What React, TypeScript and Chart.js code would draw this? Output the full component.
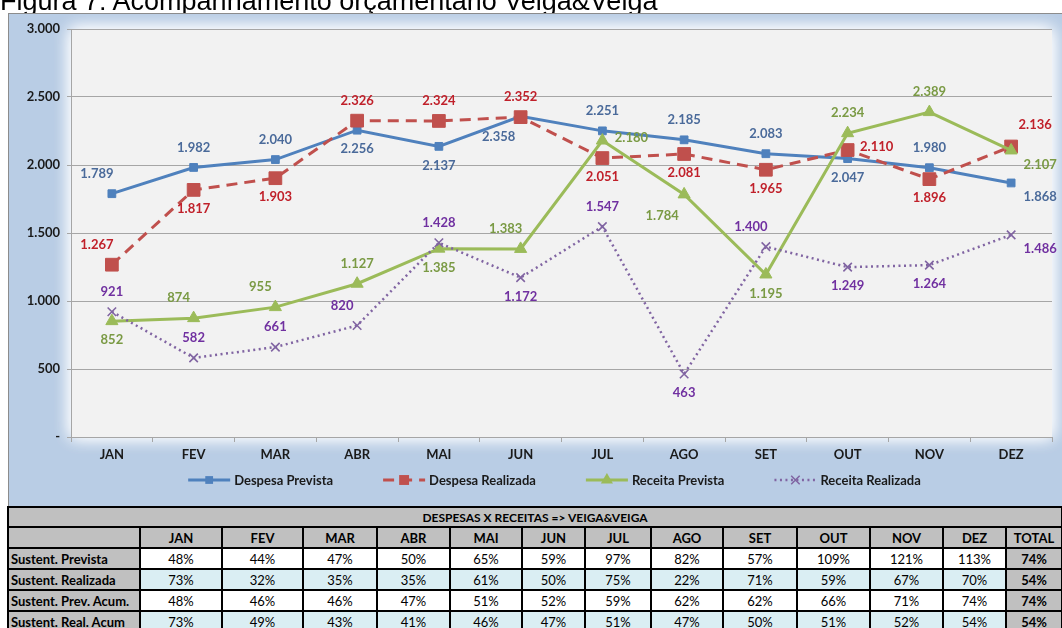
import React, { useEffect, useRef } from 'react';
import { Chart, registerables } from 'chart.js';

Chart.register(...registerables);

// ---------- data ----------
const months = ['JAN', 'FEV', 'MAR', 'ABR', 'MAI', 'JUN', 'JUL', 'AGO', 'SET', 'OUT', 'NOV', 'DEZ'];
const despesaPrevista = [1789, 1982, 2040, 2256, 2137, 2358, 2251, 2185, 2083, 2047, 1980, 1868];
const despesaRealizada = [1267, 1817, 1903, 2326, 2324, 2352, 2051, 2081, 1965, 2110, 1896, 2136];
const receitaPrevista = [852, 874, 955, 1127, 1385, 1383, 2180, 1784, 1195, 2234, 2389, 2107];
const receitaRealizada = [921, 582, 661, 820, 1428, 1172, 1547, 463, 1400, 1249, 1264, 1486];
const yMin = 0;
const yMax = 3000;
const yStep = 500;

const chartTitle = 'Figura 7: Acompanhamento orçamentário Veiga&Veiga';
const tableTitle = 'DESPESAS X RECEITAS => VEIGA&VEIGA';
const totalLabel = 'TOTAL';
const rowLabels = ['Sustent. Prevista', 'Sustent. Realizada', 'Sustent. Prev. Acum.', 'Sustent. Real. Acum'];
const sustPrevista = [48, 44, 47, 50, 65, 59, 97, 82, 57, 109, 121, 113];
const sustRealizada = [73, 32, 35, 35, 61, 50, 75, 22, 71, 59, 67, 70];
const sustPrevAcum = [48, 46, 46, 47, 51, 52, 59, 62, 62, 66, 71, 74];
const sustRealAcum = [73, 49, 43, 41, 46, 47, 51, 47, 50, 51, 52, 54];
const sustTotals = [74, 54, 74, 54];

// ---------- label placement (style) ----------
const posDP = ['al', 'a', 'a', 'b', 'b', 'bl', 'a', 'a', 'a', 'b', 'a', 'br'];
const posDR = ['al', 'b', 'b', 'a', 'a', 'a', 'b', 'b', 'b', 'r', 'b', 'ar'];
const posRP = ['b', 'al', 'al', 'a', 'b', 'al', 'r', 'bl', 'b', 'a', 'a', 'br'];
const posRR = ['a', 'a', 'a', 'al', 'a', 'b', 'a', 'b', 'al', 'b', 'b', 'br'];
const OFFSETS: Record<string, [number, number]> = {
  a: [0, -20],
  b: [0, 19],
  al: [-15, -20],
  bl: [-22, 21],
  ar: [24, -22],
  br: [29, 14],
  r: [29, -3],
};

const FONT = 'Lato, "Open Sans", sans-serif';

function fmtNum(v: number): string {
  if (v === 0) return '-';
  return String(v).replace(/\B(?=(\d{3})+(?!\d))/g, '.');
}

const seriesStyles = [
  { label: 'Despesa Prevista', data: despesaPrevista, color: '#4f81bd', text: '#4a6a9a', dash: [] as number[], width: 3, marker: 'rect', radius: 5.5, pos: posDP, order: 4 },
  { label: 'Despesa Realizada', data: despesaRealizada, color: '#c0504d', text: '#c0202a', dash: [11, 7], width: 3, marker: 'rect', radius: 9, pos: posDR, order: 3 },
  { label: 'Receita Prevista', data: receitaPrevista, color: '#9bbb59', text: '#7a9a44', dash: [] as number[], width: 3, marker: 'triangle', radius: 7, pos: posRP, order: 2 },
  { label: 'Receita Realizada', data: receitaRealizada, color: '#8064a2', text: '#7030a0', dash: [2, 3.5], width: 2.5, marker: 'crossRot', radius: 6, pos: posRR, order: 1 },
];

const bgPlugin = {
  id: 'bgGlow',
  beforeDraw(chart: any) {
    const { ctx, chartArea: ca, width, height } = chart;
    ctx.save();
    ctx.fillStyle = '#b9cde5';
    ctx.fillRect(0, 0, width, height);
    ctx.shadowColor = 'rgba(255,255,255,1)';
    ctx.shadowBlur = 16;
    ctx.fillStyle = '#f2f2f2';
    ctx.fillRect(ca.left, ca.top, ca.right - ca.left, ca.bottom - ca.top);
    ctx.fillRect(ca.left, ca.top, ca.right - ca.left, ca.bottom - ca.top);
    ctx.restore();
  },
};

const labelsPlugin = {
  id: 'pointLabels',
  afterDatasetsDraw(chart: any) {
    const { ctx } = chart;
    ctx.save();
    ctx.font = `bold 13px ${FONT}`;
    ctx.textAlign = 'center';
    ctx.textBaseline = 'middle';
    chart.data.datasets.forEach((ds: any, di: number) => {
      const meta = chart.getDatasetMeta(di);
      const st = seriesStyles[di];
      meta.data.forEach((pt: any, i: number) => {
        const off = OFFSETS[st.pos[i]] || [0, -20];
        ctx.fillStyle = st.text;
        ctx.fillText(fmtNum(ds.data[i]), pt.x + off[0], pt.y + off[1]);
      });
    });
    ctx.restore();
  },
};

function drawMarker(ctx: CanvasRenderingContext2D, kind: string, x: number, y: number, r: number, color: string) {
  ctx.save();
  ctx.setLineDash([]);
  ctx.fillStyle = color;
  ctx.strokeStyle = color;
  if (kind === 'rect') {
    const s = Math.SQRT1_2 * r;
    ctx.fillRect(x - s, y - s, 2 * s, 2 * s);
  } else if (kind === 'triangle') {
    ctx.beginPath();
    ctx.moveTo(x, y - r);
    ctx.lineTo(x + r * 0.866, y + r * 0.5);
    ctx.lineTo(x - r * 0.866, y + r * 0.5);
    ctx.closePath();
    ctx.fill();
  } else {
    const s = r * 0.707;
    ctx.lineWidth = 1.5;
    ctx.beginPath();
    ctx.moveTo(x - s, y - s);
    ctx.lineTo(x + s, y + s);
    ctx.moveTo(x + s, y - s);
    ctx.lineTo(x - s, y + s);
    ctx.stroke();
  }
  ctx.restore();
}

const legendPlugin = {
  id: 'customLegend',
  afterDraw(chart: any) {
    const { ctx, chartArea: ca } = chart;
    ctx.save();
    ctx.font = `bold 13px ${FONT}`;
    ctx.textBaseline = 'middle';
    ctx.textAlign = 'left';
    const symW = 42;
    const gap = 4;
    const itemGap = 50;
    const widths = seriesStyles.map((s) => symW + gap + ctx.measureText(s.label).width);
    const total = widths.reduce((a, b) => a + b, 0) + itemGap * (widths.length - 1);
    let x = (ca.left + ca.right) / 2 - 7 - total / 2;
    const y = ca.bottom + 43;
    seriesStyles.forEach((s, i) => {
      ctx.save();
      ctx.strokeStyle = s.color;
      ctx.lineWidth = s.width;
      ctx.setLineDash(s.dash);
      ctx.beginPath();
      ctx.moveTo(x, y);
      ctx.lineTo(x + symW, y);
      ctx.stroke();
      ctx.restore();
      drawMarker(ctx, s.marker, x + symW / 2, y, Math.min(s.radius, 7), s.color);
      ctx.fillStyle = '#1a1a1a';
      ctx.fillText(s.label, x + symW + gap, y + 1);
      x += widths[i] + itemGap;
    });
    ctx.restore();
  },
};

function ChartCanvas() {
  const ref = useRef<HTMLCanvasElement | null>(null);
  useEffect(() => {
    if (!ref.current) return;
    const chart = new Chart(ref.current, {
      type: 'line',
      data: {
        labels: months,
        datasets: seriesStyles.map((s) => ({
          label: s.label,
          data: s.data,
          borderColor: s.color,
          backgroundColor: s.color,
          borderWidth: s.width,
          borderDash: s.dash,
          tension: 0,
          fill: false,
          pointStyle: s.marker as any,
          pointRadius: s.radius,
          pointHoverRadius: s.radius,
          pointBackgroundColor: s.color,
          pointBorderColor: s.color,
          pointBorderWidth: s.marker === 'crossRot' ? 1.6 : 1,
          order: s.order,
        })),
      },
      options: {
        animation: false,
        responsive: false,
        devicePixelRatio: 1,
        layout: { padding: { top: 15, right: 8, bottom: 0, left: 0 } },
        plugins: {
          legend: { display: false },
          tooltip: { enabled: false },
          title: { display: false },
        },
        scales: {
          x: {
            type: 'category',
            offset: true,
            grid: {
              display: true,
              drawOnChartArea: false,
              drawTicks: true,
              tickLength: 5,
              color: '#a6a6a6',
              offset: true,
            },
            border: { display: true, color: '#a6a6a6', width: 1 },
            ticks: {
              color: '#1a1a1a',
              font: { family: FONT, size: 13, weight: 'bold' },
              padding: 5,
              maxRotation: 0,
            },
            afterFit: (scale: any) => {
              scale.height = 69;
            },
          },
          y: {
            min: yMin,
            max: yMax,
            ticks: {
              stepSize: yStep,
              color: '#1a1a1a',
              font: { family: FONT, size: 13, weight: 'bold' },
              padding: 7,
              callback: (v: any) => fmtNum(Number(v)),
            },
            grid: { color: '#a6a6a6', lineWidth: 1, tickLength: 4 },
            border: { display: true, color: '#a6a6a6', width: 1 },
            afterFit: (scale: any) => {
              scale.width = 62;
            },
          },
        },
      },
      plugins: [bgPlugin, labelsPlugin, legendPlugin],
    });
    return () => chart.destroy();
  }, []);
  return <canvas ref={ref} width={1053} height={492} style={{ width: 1053, height: 492, display: 'block' }} />;
}

const tableRows = [sustPrevista, sustRealizada, sustPrevAcum, sustRealAcum];
const colWidths = [130, 80, 79, 72, 71, 70, 61, 64, 70, 72, 71, 71, 61, 54];
const rowHeights = [18, 19, 19, 19, 19, 19];

function Table() {
  const cellBase: React.CSSProperties = {
    fontFamily: FONT,
    fontSize: 13,
    color: '#000',
    display: 'flex',
    alignItems: 'center',
    justifyContent: 'center',
    whiteSpace: 'nowrap',
    overflow: 'hidden',
  };
  const cells: React.ReactNode[] = [];
  cells.push(
    <div key="title" style={{ ...cellBase, gridColumn: '1 / -1', background: '#c0c0c0', fontWeight: 'bold', fontSize: 12 }}>
      {tableTitle}
    </div>
  );
  cells.push(<div key="h0" style={{ ...cellBase, background: '#c0c0c0' }} />);
  months.forEach((m) =>
    cells.push(
      <div key={'h' + m} style={{ ...cellBase, background: '#c0c0c0', fontWeight: 'bold' }}>
        {m}
      </div>
    )
  );
  cells.push(
    <div key="htot" style={{ ...cellBase, background: '#c0c0c0', fontWeight: 'bold' }}>
      {totalLabel}
    </div>
  );
  tableRows.forEach((row, ri) => {
    const bg = ri % 2 === 0 ? '#ffffff' : '#daeef3';
    cells.push(
      <div key={'l' + ri} style={{ ...cellBase, background: '#c0c0c0', fontWeight: 'bold', justifyContent: 'flex-start', paddingLeft: 2 }}>
        {rowLabels[ri]}
      </div>
    );
    row.forEach((v, ci) =>
      cells.push(
        <div key={'c' + ri + '_' + ci} style={{ ...cellBase, background: bg }}>
          {v + '%'}
        </div>
      )
    );
    cells.push(
      <div key={'t' + ri} style={{ ...cellBase, background: '#c0c0c0', fontWeight: 'bold' }}>
        {sustTotals[ri] + '%'}
      </div>
    );
  });
  return (
    <div
      style={{
        position: 'absolute',
        left: 7,
        top: 506,
        display: 'grid',
        gridTemplateColumns: colWidths.map((w) => w + 'px').join(' '),
        gridTemplateRows: rowHeights.map((h) => h + 'px').join(' '),
        columnGap: 2,
        rowGap: 2,
        padding: 2,
        background: '#000',
      }}
    >
      {cells}
    </div>
  );
}

export default function App() {
  return (
    <div style={{ position: 'relative', width: 1062, height: 628 }}>
      <div
        style={{
          position: 'fixed',
          left: 0,
          top: -12,
          fontFamily: '"Liberation Sans", Arial, sans-serif',
          fontSize: 27,
          lineHeight: '27px',
          color: '#000',
          whiteSpace: 'nowrap',
        }}
      >
        {chartTitle}
      </div>
      <div
        style={{
          position: 'fixed',
          left: 8,
          top: 13,
          width: 1053,
          height: 492,
          border: '1px solid #8c8c8c',
          borderRight: 'none',
        }}
      >
        <ChartCanvas />
      </div>
      <div style={{ position: 'fixed', left: 0, top: 0 }}>
        <Table />
      </div>
    </div>
  );
}
